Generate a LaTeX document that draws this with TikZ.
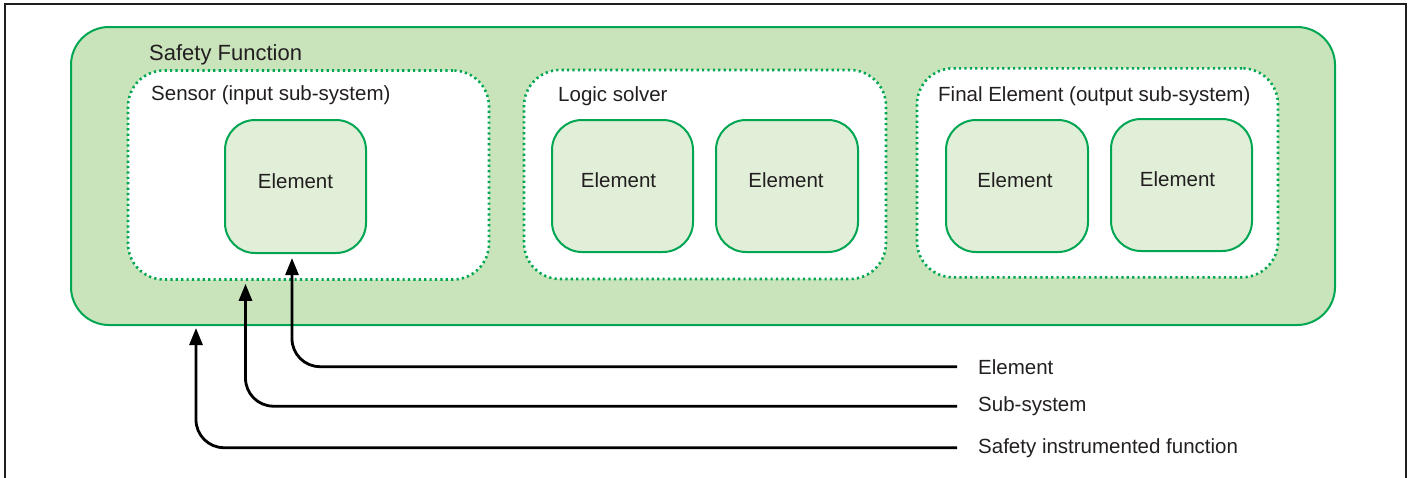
\documentclass[tikz,border=0pt]{standalone}
\usepackage{fontspec}
\setmainfont{Liberation Sans}
\usetikzlibrary{arrows.meta}
\definecolor{sifgreen}{RGB}{0,166,81}
\definecolor{sffill}{RGB}{201,228,187}
\definecolor{elfill}{RGB}{225,239,216}
\definecolor{ink}{RGB}{35,31,32}
\definecolor{framegray}{RGB}{30,30,30}
\begin{document}
\begin{tikzpicture}[x=1pt,y=-1pt,
  outerbox/.style={rectangle, draw=sifgreen, fill=sffill, line width=2pt,
    rounded corners=38pt, minimum width=1264pt, minimum height=298pt, inner sep=0pt},
  subbox/.style={rectangle, draw=sifgreen, fill=white, line width=2.6pt,
    dash pattern=on 2.2pt off 3.2pt, rounded corners=36pt,
    minimum width=361pt, minimum height=209pt, inner sep=0pt},
  elbox/.style={rectangle, draw=sifgreen, fill=elfill, line width=2pt,
    rounded corners=30pt, minimum width=141pt, minimum height=132pt, inner sep=0pt,
    font=\fontsize{20.5}{24}\selectfont, text=ink, text height=15pt, text depth=12pt},
  lbl/.style={font=\fontsize{20.5}{24}\selectfont, text=ink, inner sep=0pt, anchor=base west},
  leader/.style={draw=black, line width=2.8pt, rounded corners=28pt,
    -{Triangle[length=17pt,width=13pt]}},
  ]
\useasboundingbox (0,0) rectangle (1414,477);

% open frame round the figure
\draw[framegray, line width=2pt] (4.5,480) -- (4.5,4) -- (1405.5,4) -- (1405.5,480);

% safety function
\node[outerbox] (sf) at (703,176) {};
\node[lbl, font=\fontsize{22}{26}\selectfont] (sflbl) at (149,60) {Safety Function};

% sub-systems
\node[subbox] (sensor) at (308.5,175) {};
\node[subbox, minimum width=362pt] (logic) at (705,174.5) {};
\node[subbox] (final) at (1097.5,172.8) {};
\node[lbl] (sensorlbl) at (151,100) {Sensor (input sub-system)};
\node[lbl] (logiclbl) at (558,101) {Logic solver};
\node[lbl] (finallbl) at (938,101) {Final Element (output sub-system)};

% elements
\node[elbox, minimum height=133pt] (sensEl) at (295.5,186.5) {Element};
\node[elbox] (logEl1) at (622.5,186) {\hspace*{-8pt}Element};
\node[elbox, minimum width=142pt] (logEl2) at (787,186) {\hspace*{-2pt}Element};
\node[elbox, minimum width=142pt] (finEl1) at (1017,186) {\hspace*{-4pt}Element};
\node[elbox] (finEl2) at (1181.5,185) {\hspace*{-8pt}Element};

% legend
\node[lbl] (lgE) at (978,374) {Element};
\node[lbl] (lgS) at (978,411.5) {Sub-system};
\node[lbl] (lgF) at (978,453) {Safety instrumented function};

% leaders from the legend to the levels they name
\draw[leader, shorten >=4pt] ([xshift=-21pt]lgE.west) -| ([xshift=-3.5pt]sensEl.south);
\draw[leader, shorten >=3pt] ([xshift=-21pt]lgS.west) -| ([xshift=-63pt]sensor.south);
\draw[leader, shorten >=2pt] ([xshift=-21pt]lgF.west) -| ([xshift=-507pt]sf.south);
\end{tikzpicture}
\end{document}
